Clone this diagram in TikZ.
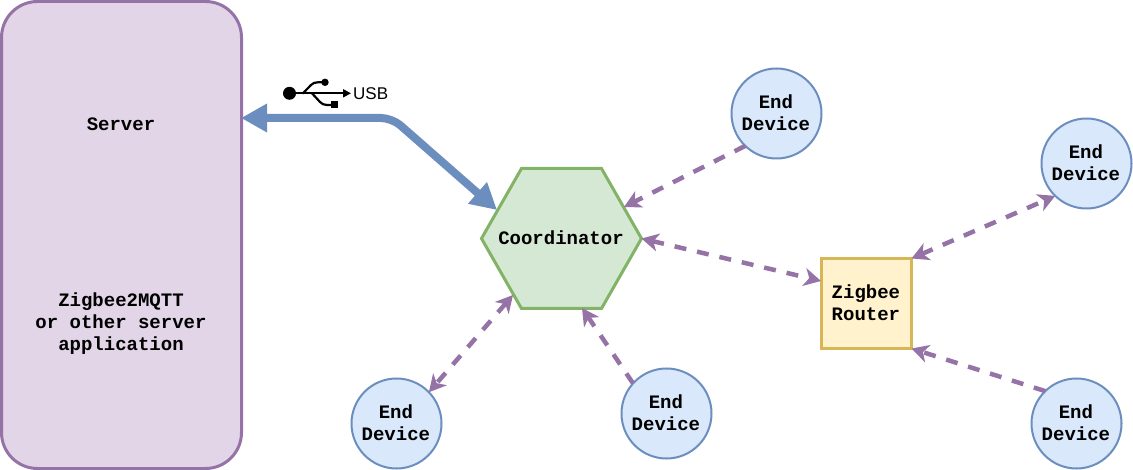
\documentclass[tikz,border=0pt]{standalone}
\usepackage{fontspec}
\setmainfont{Liberation Sans}
\newfontfamily\labelmono[Scale=1]{Liberation Mono}
\usetikzlibrary{arrows.meta}
\definecolor{purpleline}{HTML}{9673A6}
\definecolor{purplefill}{HTML}{E1D5E7}
\definecolor{blueline}{HTML}{6C8EBF}
\definecolor{bluefill}{HTML}{DAE8FC}
\definecolor{greenline}{HTML}{82B366}
\definecolor{greenfill}{HTML}{D5E8D4}
\definecolor{yellowline}{HTML}{D6B656}
\definecolor{yellowfill}{HTML}{FFF2CC}
\tikzset{
  labeltext/.style={font=\labelmono\bfseries\fontsize{19}{22}\selectfont,align=center,text=black,inner sep=0pt},
  shiftedlabel/.style={labeltext,xshift=-0.6pt,yshift=0.8pt},
  device/.style={circle,draw=blueline,fill=bluefill,line width=2pt,minimum size=90pt,outer sep=0pt},
  router/.style={rectangle,draw=yellowline,fill=yellowfill,line width=2.2pt,minimum size=90pt,outer sep=0pt},
  link/.style={draw=purpleline,line width=4.5pt,dash pattern=on 12pt off 11pt},
  onetip/.style={link,-{Stealth[length=17pt,width=18pt,inset=5pt]}},
  twotip/.style={link,{Stealth[length=17pt,width=18pt,inset=5pt]}-{Stealth[length=17pt,width=18pt,inset=5pt]}},
  usblink/.style={draw=blueline,line width=8pt,rounded corners=11pt,{Stealth[length=26pt,width=27pt,inset=0pt]}-{Stealth[length=26pt,width=27pt,inset=0pt]}},
  usbline/.style={draw=black,line width=2.2pt,line cap=round},
}
\begin{document}
\begin{tikzpicture}[x=1pt,y=-1pt]
\useasboundingbox (0,0) rectangle (1133,470);
% server
\node[rectangle,draw=purpleline,fill=purplefill,line width=3pt,rounded corners=36pt,minimum width=240pt,minimum height=467pt,outer sep=0pt] (server) at (121.5,235) {};
\node[labeltext] (servertitle) at (121,124) {Server};
\node[labeltext] (serverapp) at (121,323.5) {Zigbee2MQTT\\or other server\\application};
% coordinator
\coordinate (hw) at (481.5,238.5);
\coordinate (hnw) at (521.5,168.5);
\coordinate (hne) at (601.5,168.5);
\coordinate (he) at (641.5,238.5);
\coordinate (hse) at (601.5,308.5);
\coordinate (hsw) at (521.5,308.5);
\draw[draw=greenline,fill=greenfill,line width=3pt,line join=miter] (hw)--(hnw)--(hne)--(he)--(hse)--(hsw)--cycle;
\node[labeltext] (coord) at (561,238) {Coordinator};
\coordinate (hupw) at (497,210);
\coordinate (hupe) at (624,207);
\coordinate (hlow) at (513,295);
\coordinate (hlowb) at (582,308);
% router and devices
\node[router,label={[shiftedlabel,name=zrtext]center:{Zigbee\\Router}}] (zr) at (866.5,303.5) {};
\coordinate (zrw) at (821,281);
\node[device,label={[shiftedlabel,name=d1text]center:{End\\Device}}] (d1) at (776.5,113.5) {};
\node[device,label={[shiftedlabel,name=d2text]center:{End\\Device}}] (d2) at (1086.5,163.5) {};
\node[device,label={[shiftedlabel,name=d3text]center:{End\\Device}}] (d3) at (1076.5,423.5) {};
\node[device,label={[shiftedlabel,name=d4text]center:{End\\Device}}] (d4) at (666.5,413.5) {};
\node[device,label={[shiftedlabel,name=d5text]center:{End\\Device}}] (d5) at (396.5,423.5) {};
% connectors
\coordinate (usbbend) at (392,118);
\coordinate (serverport) at (241,118);
\draw[usblink] (serverport) -- (usbbend) -- (hupw);
\draw[onetip] (d1.226) -- (hupe);
\draw[twotip] (he) -- (zrw);
\draw[twotip] (zr.north east) -- (d2.226);
\draw[onetip] (d3.134) -- (zr.south east);
\draw[twotip] (hlow) -- (d5.44);
\draw[onetip] (d4.138) -- (hlowb);
% usb symbol
\fill (289.5,93.3) circle (6.5pt);
\draw[usbline,-{Stealth[length=8pt,width=8pt,inset=0pt]}] (292,93.3) -- (351,93.3);
\draw[usbline] (303,93.3) -- (311,85) .. controls (313,83) and (315,82.3) .. (318,82.3) -- (325,82.3);
\draw[usbline] (312,93.3) -- (320,102) .. controls (322,104) and (324,105) .. (327,105) -- (332,105);
\fill (325,82.3) circle (3.7pt);
\fill (330.5,101) rectangle (338.3,108.5);
\node[font=\fontsize{17}{20}\selectfont,inner sep=0pt,anchor=west] (usblabel) at (353,93.5) {USB};
\end{tikzpicture}
\end{document}
